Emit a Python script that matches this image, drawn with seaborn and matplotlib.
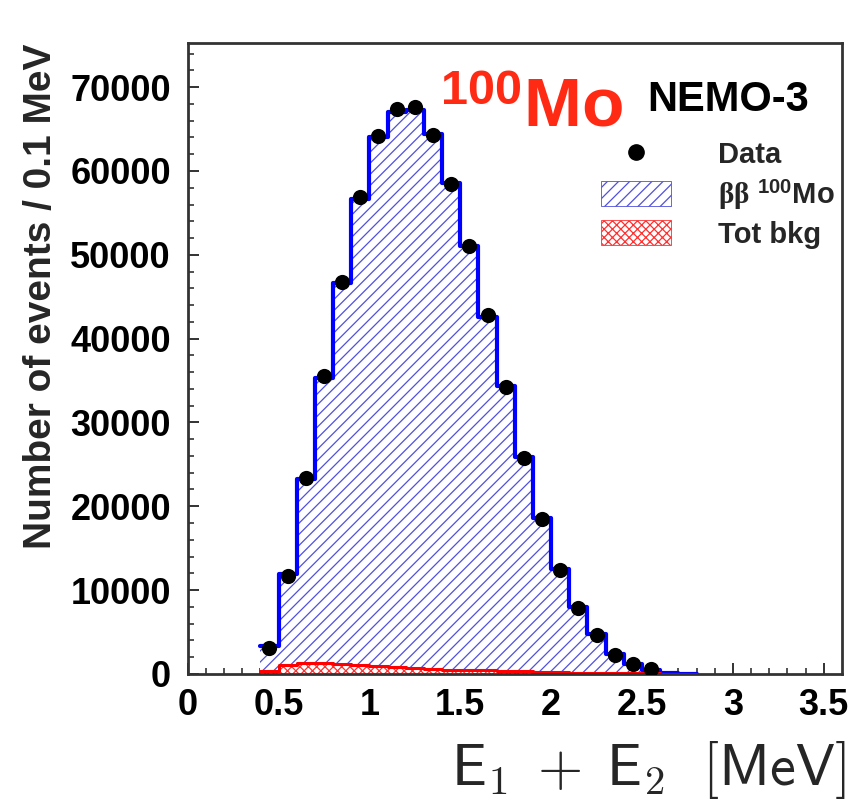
import numpy as np
import seaborn as sns
import matplotlib
matplotlib.use("Agg")
import matplotlib.pyplot as plt
from matplotlib.lines import Line2D
from matplotlib.patches import Patch

# bin centres (MeV), 0.1 MeV wide
energy = [0.45, 0.55, 0.65, 0.75, 0.85, 0.95, 1.05, 1.15, 1.25, 1.35, 1.45, 1.55,
          1.65, 1.75, 1.85, 1.95, 2.05, 2.15, 2.25, 2.35, 2.45, 2.55, 2.65, 2.75]
mc_2nu = [3300, 11900, 23200, 35300, 46600, 56700, 64000, 67000, 67300, 64400, 58600, 51000,
          42600, 34300, 25900, 18600, 12500, 8000, 4700, 2400, 1150, 500, 150, 40]
bkg = [300, 1100, 1300, 1300, 1200, 1100, 900, 800, 700, 600, 500, 450,
       400, 350, 300, 250, 200, 150, 120, 100, 80, 60, 30, 20]
data_energy = [0.45, 0.55, 0.65, 0.75, 0.85, 0.95, 1.05, 1.15, 1.25, 1.35, 1.45, 1.55,
               1.65, 1.75, 1.85, 1.95, 2.05, 2.15, 2.25, 2.35, 2.45, 2.55]
data_counts = [3100, 11700, 23400, 35500, 46800, 56900, 64200, 67400, 67600, 64300, 58500, 51100,
               42800, 34200, 25800, 18500, 12400, 7900, 4600, 2300, 1150, 600]
edges = [round(0.4 + 0.1 * i, 2) for i in range(25)]

sns.set_style("ticks")
plt.rcParams["font.family"] = ["Liberation Sans", "DejaVu Sans"]
plt.rcParams["font.weight"] = "bold"
plt.rcParams["mathtext.fontset"] = "custom"
plt.rcParams["mathtext.rm"] = "Liberation Sans:bold"
plt.rcParams["mathtext.bf"] = "Liberation Sans:bold"
plt.rcParams["mathtext.it"] = "Liberation Serif"
plt.rcParams["mathtext.sf"] = "Liberation Serif"
plt.rcParams["hatch.linewidth"] = 0.9

fig = plt.figure(figsize=(8.53, 8.07), dpi=100)
ax = fig.add_axes([0.220, 0.165, 0.767, 0.782])

# signal (2nu bb) hatched fill
sns.histplot(x=energy, weights=mc_2nu, bins=edges, element="step", fill=True, ax=ax)
sig_fill = ax.collections[-1]
sig_fill.set_facecolor("white")
sig_fill.set_edgecolor("#5050dd")
sig_fill.set_hatch("///")
sig_fill.set_linewidth(0)

# background cross-hatched fill
sns.histplot(x=energy, weights=bkg, bins=edges, element="step", fill=True, ax=ax)
bkg_fill = ax.collections[-1]
bkg_fill.set_facecolor("white")
bkg_fill.set_edgecolor("#ff3030")
bkg_fill.set_hatch("xxxx")
bkg_fill.set_linewidth(0)

# outlines
sns.histplot(x=energy, weights=mc_2nu, bins=edges, element="step", fill=False,
             color="#0000ff", linewidth=3, ax=ax)
sns.histplot(x=energy, weights=bkg, bins=edges, element="step", fill=False,
             color="#ff0000", linewidth=2.2, ax=ax)

# data points
sns.scatterplot(x=data_energy, y=data_counts, color="black", s=120, edgecolor="black",
                linewidth=0, zorder=5, ax=ax)

ax.set_xlim(0, 3.6)
ax.set_ylim(0, 75300)
ax.set_xticks([0, 0.5, 1, 1.5, 2, 2.5, 3, 3.5])
ax.set_xticklabels(["0", "0.5", "1", "1.5", "2", "2.5", "3", "3.5"])
ax.set_xticks(np.arange(0, 3.6, 0.1), minor=True)
ax.set_yticks(range(0, 70001, 10000))
ax.set_yticks(range(0, 75001, 2000), minor=True)
ax.tick_params(axis="both", which="major", direction="in", length=8, width=1.3,
               labelsize=26, colors="#222222")
ax.tick_params(axis="both", which="minor", direction="in", length=4, width=1.1,
               colors="#222222")
ax.tick_params(axis="y", pad=12)
ax.tick_params(axis="x", pad=10)
for lbl in ax.get_xticklabels() + ax.get_yticklabels():
    lbl.set_fontweight("bold")
    lbl.set_color("black")
for sp in ax.spines.values():
    sp.set_visible(True)
    sp.set_linewidth(2)
    sp.set_color("#333333")

ax.set_xlabel("")
ax.set_ylabel("Number of events / 0.1 MeV", fontsize=28, fontweight="bold")
ax.yaxis.set_label_coords(-0.196, 0.598)

# x label in LaTeX-like sans
fig.text(0.992, 0.027, r"$\mathsf{E}_1\;+\;\mathsf{E}_2\ \ \mathsf{[MeV]}$",
         ha="right", va="baseline", fontsize=42, math_fontfamily="cm",
         fontweight="normal")

ax.text(0.385, 0.868, r"$^{100}$Mo", transform=ax.transAxes, color="#ff2a14",
        fontsize=50, fontweight="bold", ha="left", va="baseline")
ax.text(0.702, 0.892, "NEMO-3", transform=ax.transAxes, color="black",
        fontsize=30, fontweight="bold", ha="left", va="baseline")

handles = [
    Line2D([0], [0], marker="o", color="black", linestyle="none", markersize=11),
    Patch(facecolor="white", edgecolor="#5050dd", hatch="///", linewidth=0.6),
    Patch(facecolor="white", edgecolor="#ff3030", hatch="xxxx", linewidth=0.6),
]
labels = ["Data", r"$\mathsf{\beta\beta}$ $^{100}$Mo", "Tot bkg"]
leg = ax.legend(handles, labels, loc="upper left", bbox_to_anchor=(0.705, 0.826),
                bbox_transform=fig.transFigure, frameon=False, fontsize=21,
                handlelength=2.4, handleheight=0.95, handletextpad=1.6,
                labelspacing=0.3, borderpad=0, borderaxespad=0, numpoints=1)
for t in leg.get_texts():
    t.set_fontweight("bold")

fig.savefig("out.png", dpi=100)
